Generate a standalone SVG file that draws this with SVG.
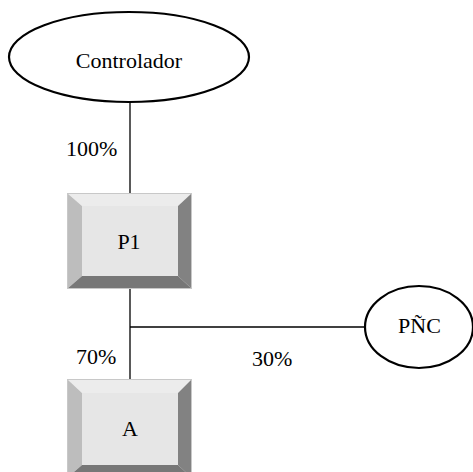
<svg xmlns="http://www.w3.org/2000/svg" width="473" height="472" viewBox="0 0 473 472">
<style>
text{font-family:'Liberation Serif','DejaVu Serif',serif;font-size:22px;fill:#000}
.m{text-anchor:middle}
.ell{fill:#fff;stroke:#000;stroke-width:2.2}
.ln{stroke:#000;stroke-width:1.3;fill:none}
.top{fill:#ececec}.lft{fill:#bdbdbd}.rgt{fill:#828282}.bot{fill:#777}.face{fill:#e6e6e6}
.edge{fill:none;stroke:#c8c8c8;stroke-width:1}
</style>
<rect width="473" height="472" fill="#fff"/>
<g id="connectors">
<line class="ln" x1="130" y1="102" x2="130" y2="193"/>
<line class="ln" x1="130" y1="289" x2="130" y2="379"/>
<line class="ln" x1="130" y1="327" x2="365" y2="327"/>
</g>
<g id="controlador">
<ellipse class="ell" cx="129" cy="57" rx="120" ry="45"/>
<text class="m" x="129" y="68">Controlador</text>
</g>
<g id="p1">
<polygon class="top" points="67,193 192,193 178,206 82,206"/>
<polygon class="lft" points="67,193 82,206 82,276 67,289"/>
<polygon class="rgt" points="192,193 192,289 178,276 178,206"/>
<polygon class="bot" points="67,289 82,276 178,276 192,289"/>
<rect class="face" x="82" y="206" width="96" height="70"/>
<rect class="edge" x="67.5" y="193.5" width="124" height="95"/>
<text class="m" x="129" y="249">P1</text>
</g>
<g id="pnc">
<ellipse class="ell" cx="419" cy="327" rx="54" ry="41"/>
<text class="m" x="419.5" y="333">PÑC</text>
</g>
<g id="a">
<polygon class="top" points="67,379 192,379 178,393 82,393"/>
<polygon class="lft" points="67,379 82,393 82,465 67,478"/>
<polygon class="rgt" points="192,379 192,478 178,465 178,393"/>
<polygon class="bot" points="67,478 82,465 178,465 192,478"/>
<rect class="face" x="82" y="393" width="96" height="72"/>
<rect class="edge" x="67.5" y="379.5" width="124" height="98"/>
<text class="m" x="130" y="436">A</text>
</g>
<g id="labels">
<text x="66" y="156">100%</text>
<text x="76" y="364">70%</text>
<text x="252" y="366">30%</text>
</g>
</svg>
